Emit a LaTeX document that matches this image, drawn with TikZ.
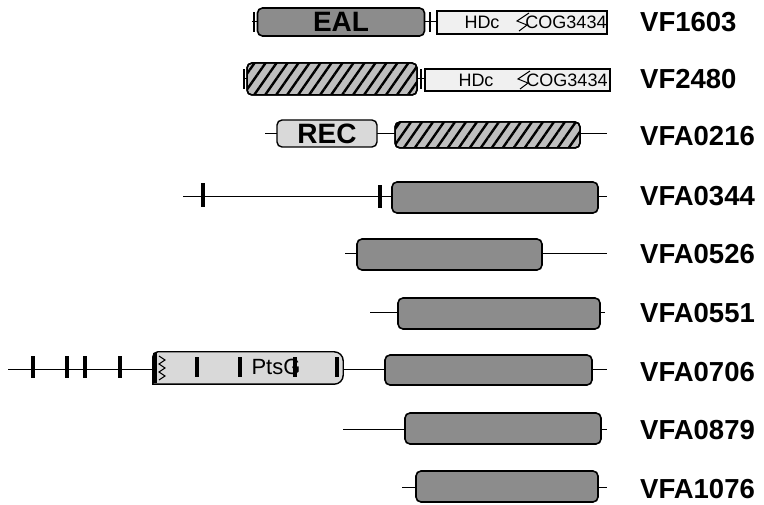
\documentclass[tikz,border=0pt]{standalone}
\usepackage{fontspec}
\setmainfont{Liberation Sans}
\usetikzlibrary{patterns.meta}

\begin{document}
\begin{tikzpicture}[
  x=1pt, y=-1pt,
  chain/.style={line width=1pt, color=black},
  darkdom/.style={
    rectangle, draw=black, line width=1.6pt,
    fill=black!45,
    rounded corners=5pt,
    minimum height=31pt,
    inner sep=0pt
  },
  lightdom/.style={
    rectangle, draw=black, line width=1.4pt,
    fill=black!15,
    rounded corners=5pt,
    inner sep=0pt
  },
  hatchdom/.style={
    rectangle, draw=black, line width=1.5pt,
    fill=black!25,
    rounded corners=5pt,
    inner sep=0pt,
    postaction={pattern={Lines[angle=55, distance=9pt, line width=2.4pt]}},
    postaction={draw=black, line width=1.5pt}
  },
  plaindom/.style={
    rectangle, draw=black, line width=1.2pt,
    fill=black!6,
    minimum height=22pt,
    inner sep=0pt
  },
  bar/.style={rectangle, fill=black, inner sep=0pt, minimum width=4pt, minimum height=22pt},
  tickmark/.style={rectangle, fill=black, inner sep=0pt, minimum width=1.2pt, minimum height=20pt},
  zig/.style={line width=1pt, color=black},
  domtext/.style={font=\bfseries\fontsize{28}{28}\selectfont},
  smalltext/.style={font=\fontsize{18}{18}\selectfont},
  gene/.style={anchor=west, inner sep=0pt, font=\bfseries\fontsize{27.5}{27.5}\selectfont}
]
\useasboundingbox (0,0) rectangle (764,505);

% --- Row 1: VF1603
\coordinate (s1) at (252,22);
\coordinate (e1) at (607,22);
\draw[chain] (s1) -- (e1);
\node[tickmark] (k11) at (254,22) {};
\node[darkdom, minimum width=167pt, minimum height=28pt, domtext] (eal) at (341,22) {EAL};
\node[tickmark] (k12) at (430,22) {};
\node[plaindom, minimum width=170pt, minimum height=23pt] (hdc1) at (522,22.5) {};
\node[smalltext] (hdc1t) at (482,22.5) {HDc};
\node[smalltext] (cog1) at (566,22.5) {COG3434};
\draw[zig] (529,13) -- (517,21) -- (527,25) -- (519,31);
\node[gene] (g1) at (640,22) {VF1603};

% --- Row 2: VF2480
\coordinate (s2) at (243,79);
\coordinate (e2) at (610,79);
\draw[chain] (s2) -- (e2);
\node[tickmark] (k21) at (244,79) {};
\node[hatchdom, minimum width=170pt, minimum height=32pt] (hat2) at (332,79) {};
\node[tickmark] (k22) at (421,79) {};
\node[plaindom, minimum width=185pt] (hdc2) at (517.5,80) {};
\node[smalltext] (hdc2t) at (476,80) {HDc};
\node[smalltext] (cog2) at (567,80) {COG3434};
\draw[zig] (530,71) -- (518,79) -- (528,83) -- (520,89);
\node[gene] (g2) at (640,79) {VF2480};

% --- Row 3: VFA0216
\coordinate (s3) at (265,134);
\coordinate (e3) at (607,134);
\draw[chain] (s3) -- (e3);
\node[lightdom, minimum width=100pt, minimum height=27pt, domtext] (rec) at (327,133.5) {REC};
\node[hatchdom, minimum width=185pt, minimum height=26pt] (hat3) at (487.5,135) {};
\node[gene] (g3) at (640,136) {VFA0216};

% --- Row 4: VFA0344
\coordinate (s4) at (183,197);
\coordinate (e4) at (607,197);
\draw[chain] (s4) -- (e4);
\node[bar, minimum height=24pt] (b41) at (203,195) {};
\node[bar, minimum height=23pt] (b42) at (380,197) {};
\node[darkdom, minimum width=206pt] (d4) at (495,197.5) {};
\node[gene] (g4) at (640,196) {VFA0344};

% --- Row 5: VFA0526
\coordinate (s5) at (345,254);
\coordinate (e5) at (607,254);
\draw[chain] (s5) -- (e5);
\node[darkdom, minimum width=185pt] (d5) at (449.5,254.5) {};
\node[gene] (g5) at (640,254) {VFA0526};

% --- Row 6: VFA0551
\coordinate (s6) at (370,313);
\coordinate (e6) at (605,313);
\draw[chain] (s6) -- (e6);
\node[darkdom, minimum width=202pt] (d6) at (499,313.5) {};
\node[gene] (g6) at (640,313) {VFA0551};

% --- Row 7: VFA0706 (PtsG fragment on the left)
\coordinate (s7) at (8,370);
\coordinate (e7) at (607,370);
\draw[chain] (s7) -- (e7);
\foreach \bx [count=\i] in {33,67,85,120}
  \node[bar] (b7\i) at (\bx,367) {};
\node[inner sep=0pt, minimum width=190pt, minimum height=32pt] (pts) at (248,368) {};
\draw[lightdom] (pts.south west) -- (pts.north west) [rounded corners=9pt] -- (pts.north east)
  -- (pts.south east) [sharp corners] -- cycle;
\node[bar, minimum height=30pt] (p0) at (155,368) {};
\draw[zig] (159,356) -- (165,360) -- (159,364) -- (165,368) -- (159,372) -- (165,376) -- (159,380);
\foreach \bx [count=\i] in {197,240,295,337}
  \node[bar, minimum height=20pt] (p\i) at (\bx,367) {};
\node[font=\fontsize{22}{22}\selectfont] (ptst) at (276,367) {PtsG};
\node[darkdom, minimum width=207pt, minimum height=30pt] (d7) at (488.5,370) {};
\node[gene] (g7) at (640,372) {VFA0706};

% --- Row 8: VFA0879
\coordinate (s8) at (343,429);
\coordinate (e8) at (607,429);
\draw[chain] (s8) -- (e8);
\node[darkdom, minimum width=196pt] (d8) at (503,428.5) {};
\node[gene] (g8) at (640,430) {VFA0879};

% --- Row 9: VFA1076
\coordinate (s9) at (402,487);
\coordinate (e9) at (607,487);
\draw[chain] (s9) -- (e9);
\node[darkdom, minimum width=182pt] (d9) at (507,486.5) {};
\node[gene] (g9) at (640,489) {VFA1076};

\end{tikzpicture}
\end{document}
